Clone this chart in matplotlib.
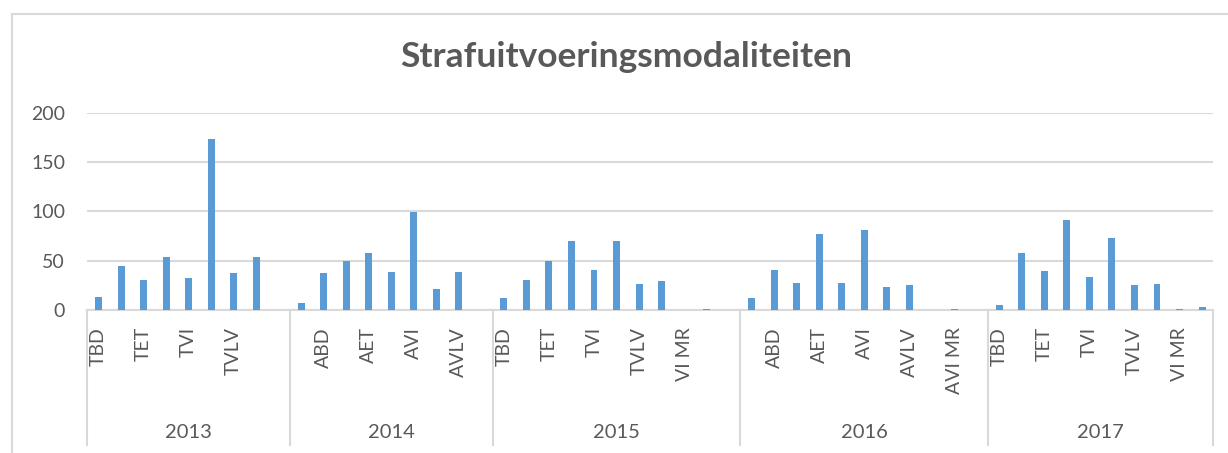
import matplotlib.pyplot as plt
import matplotlib.transforms as mtransforms
from matplotlib.lines import Line2D

years = ["2013", "2014", "2015", "2016", "2017"]
cats_2013 = ["TBD", "ABD", "TET", "AET", "TVI", "AVI", "TVLV", "AVLV", ""]
cats_2014 = ["TBD", "ABD", "TET", "AET", "TVI", "AVI", "TVLV", "AVLV", ""]
cats_2015 = ["TBD", "ABD", "TET", "AET", "TVI", "AVI", "TVLV", "AVLV", "VI MR", "AVI MR", ""]
cats_2016 = ["TBD", "ABD", "TET", "AET", "TVI", "AVI", "TVLV", "AVLV", "VI MR", "AVI MR", ""]
cats_2017 = ["TBD", "ABD", "TET", "AET", "TVI", "AVI", "TVLV", "AVLV", "VI MR", "AVI MR"]

vals_2013 = [13, 44, 30, 54, 32, 174, 37, 54, 0]
vals_2014 = [7, 37, 50, 58, 38, 99, 21, 38, 0]
vals_2015 = [12, 30, 50, 70, 40, 70, 26, 29, 0, 1, 0]
vals_2016 = [12, 40, 27, 77, 27, 81, 23, 25, 0, 0.5, 0]
vals_2017 = [5, 58, 39, 91, 33, 73, 25, 26, 1, 3]

groups = [cats_2013, cats_2014, cats_2015, cats_2016, cats_2017]
values = vals_2013 + vals_2014 + vals_2015 + vals_2016 + vals_2017
labels = cats_2013 + cats_2014 + cats_2015 + cats_2016 + cats_2017
x = list(range(len(values)))

plt.rcParams['font.family'] = ['Lato', 'DejaVu Sans']
txt = "#595959"
grid = "#D9D9D9"

W, H = 1228, 453
fig = plt.figure(figsize=(W / 100, H / 100), dpi=100)
ax = fig.add_axes([87.3 / W, 1 - 309.7 / H, (1213.3 - 87.3) / W, (309.7 - 113) / H])

ax.bar(x, values, width=0.31, color="#5B9BD5", zorder=3)
ax.set_xlim(-0.5, len(values) - 0.5)
ax.set_ylim(0, 200)
ax.set_yticks([0, 50, 100, 150, 200])
ax.yaxis.grid(True, color=grid, linewidth=1.5, zorder=0)
ax.tick_params(axis="y", length=0, pad=16, labelsize=14, labelcolor=txt)
ax.set_xticks([])
for s in ["top", "right", "left"]:
    ax.spines[s].set_visible(False)
ax.spines["bottom"].set_color(grid)
ax.spines["bottom"].set_linewidth(1.5)

# category labels (every other one shown, like Excel)
trans = mtransforms.blended_transform_factory(ax.transData, fig.transFigure)
for i, lab in enumerate(labels):
    if i % 2 == 0 and lab:
        ax.text(i, 1 - 327 / H, lab, transform=trans, rotation=90,
                ha="center", va="top", fontsize=14, color=txt)

# group separators and year labels
start = 0
bounds = [-0.5]
for g, yr in zip(groups, years):
    end = start + len(g)
    bounds.append(end - 0.5)
    ax.text((start + end - 1) / 2, 1 - 432 / H, yr, transform=trans,
            ha="center", va="center", fontsize=14.5, color=txt)
    start = end
for b in bounds:
    ax.add_line(Line2D([b, b], [1 - 309.7 / H, 1 - 445 / H], transform=trans,
                       color=grid, linewidth=1.5, clip_on=False))

fig.text(626.5 / W, 1 - 67 / H, "Strafuitvoeringsmodaliteiten", ha="center",
         va="baseline", fontsize=25.5, fontweight="bold", color=txt)

# chart frame
fig.add_artist(Line2D([12 / W, 1], [1 - 14 / H, 1 - 14 / H], transform=fig.transFigure,
                      color=grid, linewidth=1.5))
fig.add_artist(Line2D([12 / W, 12 / W], [1 - 14 / H, 0], transform=fig.transFigure,
                      color=grid, linewidth=1.5))

fig.savefig("out.png", dpi=100)
